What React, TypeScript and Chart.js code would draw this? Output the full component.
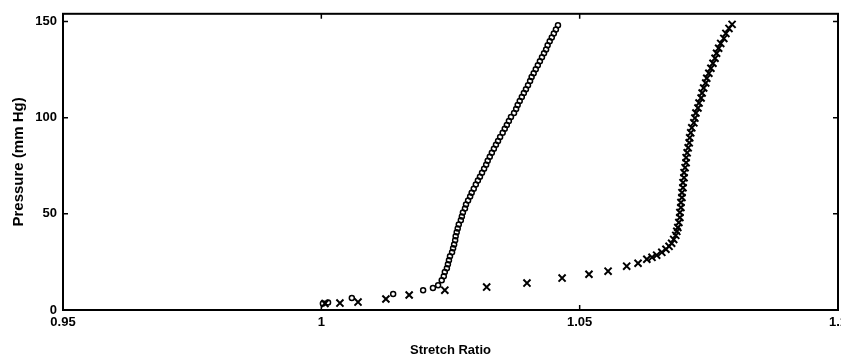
import React, { useEffect, useRef } from 'react';
import { Chart, registerables } from 'chart.js';

Chart.register(...registerables);

// Circle series (stretch ratio, pressure mm Hg)
const circleStretch = [
  1.0003, 1.0013, 1.0059, 1.0139, 1.0197, 1.0216, 1.0226,
  1.0233, 1.0237, 1.0239, 1.0243, 1.0245, 1.0247, 1.0249, 1.0253, 1.0255, 1.0257,
  1.0259, 1.026, 1.0262, 1.0264, 1.0266, 1.027, 1.0272, 1.0274, 1.0278, 1.028,
  1.0284, 1.0288, 1.0291, 1.0295, 1.0299, 1.0303, 1.0307, 1.0311, 1.0315, 1.0319,
  1.0322, 1.0326, 1.033, 1.0334, 1.0338, 1.0342, 1.0346, 1.0351, 1.0355, 1.0359,
  1.0363, 1.0367, 1.0373, 1.0377, 1.038, 1.0384, 1.0388, 1.0392, 1.0396, 1.04,
  1.0404, 1.0407, 1.0411, 1.0415, 1.0419, 1.0423, 1.0427, 1.0431, 1.0435, 1.0438,
  1.0442, 1.0446, 1.045, 1.0454, 1.0458,
];
const circlePressure = [
  3.4, 3.9, 6.2, 8.3, 10.3, 11.4, 12.9,
  15.5, 17.6, 19.7, 21.7, 23.8, 25.9, 27.9, 30.0, 32.1, 34.1,
  36.2, 38.3, 40.4, 42.4, 44.5, 46.6, 48.6, 50.7, 52.8, 54.8,
  56.9, 59.0, 61.0, 63.1, 65.2, 67.3, 69.3, 71.4, 73.5, 75.5,
  77.6, 79.7, 81.7, 83.8, 85.9, 87.9, 90.0, 92.1, 94.2, 96.2,
  98.3, 100.4, 102.4, 104.5, 106.6, 108.6, 110.7, 112.8, 114.8, 116.9,
  119.0, 121.1, 123.1, 125.2, 127.3, 129.3, 131.4, 133.5, 135.5, 137.6,
  139.7, 141.7, 143.8, 145.9, 148.0,
];

// Cross series (stretch ratio, pressure mm Hg)
const crossStretch = [
  1.0007, 1.0036, 1.0071, 1.0125, 1.017, 1.0239, 1.032, 1.0398, 1.0466, 1.0518,
  1.0555, 1.0591, 1.0613, 1.063, 1.064, 1.0649, 1.0659, 1.0667, 1.0673, 1.0678,
  1.0682, 1.0686, 1.0688, 1.069, 1.0692, 1.0694, 1.0694, 1.0696, 1.0696, 1.0698,
  1.0698, 1.07, 1.07, 1.0702, 1.0702, 1.0704, 1.0706, 1.0706, 1.0708, 1.071,
  1.0712, 1.0713, 1.0715, 1.0717, 1.0721, 1.0723, 1.0725, 1.0729, 1.0731, 1.0735,
  1.0737, 1.074, 1.0744, 1.0746, 1.075, 1.0754, 1.0758, 1.0762, 1.0765, 1.0769,
  1.0773, 1.0779, 1.0783, 1.0789, 1.0795,
];
const crossPressure = [
  3.4, 3.6, 4.1, 5.7, 7.8, 10.3, 11.9, 14.0, 16.6, 18.6,
  20.2, 22.8, 24.3, 26.4, 27.4, 28.5, 30.0, 31.6, 33.1, 34.7,
  36.7, 38.8, 40.9, 42.9, 45.5, 48.1, 50.7, 53.3, 55.9, 58.5,
  61.0, 63.6, 66.2, 68.8, 71.4, 74.0, 76.6, 79.2, 81.7, 84.3,
  86.9, 89.5, 92.1, 94.7, 97.3, 99.8, 102.4, 105.0, 107.6, 110.2,
  112.8, 115.4, 118.0, 120.5, 123.1, 125.7, 128.3, 130.9, 133.5, 136.1,
  138.6, 141.2, 143.8, 146.4, 148.5,
];

const xTicks = [0.95, 1.0, 1.05, 1.1];
const xTickLabels = ['0.95', '1', '1.05', '1.1'];
const yTicks = [0, 50, 100, 150];
const yTickLabels = ['0', '50', '100', '150'];

const xTitle = 'Stretch Ratio';
const yTitle = 'Pressure (mm Hg)';

const FONT = "'Liberation Sans', Arial, Helvetica, sans-serif";

const framePlugin = {
  id: 'matlabFrame',
  afterDatasetsDraw(chart: any) {
    const { ctx, chartArea, scales } = chart;
    const { left, right, top, bottom } = chartArea;
    const x = scales.x;
    const y = scales.y;
    ctx.save();
    ctx.strokeStyle = '#000';
    ctx.lineWidth = 2;
    ctx.strokeRect(left, top, right - left, bottom - top);
    ctx.lineWidth = 1.5;
    const L = 5;
    ctx.beginPath();
    xTicks.forEach((v) => {
      const px = x.getPixelForValue(v);
      ctx.moveTo(px, bottom);
      ctx.lineTo(px, bottom - L);
      ctx.moveTo(px, top);
      ctx.lineTo(px, top + L);
    });
    yTicks.forEach((v) => {
      const py = y.getPixelForValue(v);
      ctx.moveTo(left, py);
      ctx.lineTo(left + L, py);
      ctx.moveTo(right, py);
      ctx.lineTo(right - L, py);
    });
    ctx.stroke();
    ctx.restore();
  },
};

export default function App() {
  const ref = useRef<HTMLCanvasElement | null>(null);

  useEffect(() => {
    const canvas = ref.current;
    if (!canvas) return;
    const chart = new Chart(canvas, {
      type: 'scatter',
      data: {
        datasets: [
          {
            label: 'circles',
            data: circleStretch.map((v, i) => ({ x: v, y: circlePressure[i] })),
            pointStyle: 'circle',
            pointRadius: 2.5,
            pointBorderWidth: 1.5,
            borderColor: '#000',
            backgroundColor: 'rgba(0,0,0,0)',
            showLine: false,
          },
          {
            label: 'crosses',
            data: crossStretch.map((v, i) => ({ x: v, y: crossPressure[i] })),
            pointStyle: 'crossRot',
            pointRadius: 5,
            pointBorderWidth: 2,
            borderColor: '#000',
            backgroundColor: '#000',
            showLine: false,
          },
        ],
      },
      options: {
        animation: false,
        responsive: false,
        devicePixelRatio: 1,
        layout: { padding: { left: 0, top: 13, right: 22, bottom: 0 } },
        plugins: {
          legend: { display: false },
          tooltip: { enabled: false },
        },
        scales: {
          x: {
            type: 'linear',
            min: 0.95,
            max: 1.1,
            grid: { display: false, drawTicks: false },
            border: { display: false },
            afterBuildTicks: (scale: any) => {
              scale.ticks = xTicks.map((v) => ({ value: v }));
            },
            afterFit: (scale: any) => {
              scale.height = 48;
            },
            ticks: {
              color: '#000',
              padding: 5,
              maxRotation: 0,
              autoSkip: false,
              font: { family: FONT, size: 13, weight: 'bold' },
              callback: (v: any) => {
                const i = xTicks.findIndex((t) => Math.abs(t - v) < 1e-6);
                return i >= 0 ? xTickLabels[i] : '';
              },
            },
            title: {
              display: true,
              text: xTitle,
              color: '#000',
              padding: { top: 0, bottom: 0 },
              font: { family: FONT, size: 13, weight: 'bold' },
            },
          },
          y: {
            type: 'linear',
            min: 0,
            max: 154,
            grid: { display: false, drawTicks: false },
            border: { display: false },
            afterBuildTicks: (scale: any) => {
              scale.ticks = yTicks.map((v) => ({ value: v }));
            },
            afterFit: (scale: any) => {
              scale.width = 63;
            },
            ticks: {
              color: '#000',
              padding: 6,
              autoSkip: false,
              font: { family: FONT, size: 13, weight: 'bold' },
              callback: (v: any) => {
                const i = yTicks.findIndex((t) => Math.abs(t - v) < 1e-6);
                return i >= 0 ? yTickLabels[i] : '';
              },
            },
            title: {
              display: true,
              text: yTitle,
              color: '#000',
              padding: { top: 10, bottom: 0 },
              font: { family: FONT, size: 15, weight: 'bold' },
            },
          },
        },
      },
      plugins: [framePlugin],
    });
    return () => chart.destroy();
  }, []);

  return (
    <div
      style={{
        position: 'fixed',
        left: 0,
        top: 0,
        width: 841,
        height: 358,
        overflow: 'hidden',
        background: '#fff',
      }}
    >
      <canvas ref={ref} width={860} height={358} style={{ display: 'block' }} />
    </div>
  );
}
